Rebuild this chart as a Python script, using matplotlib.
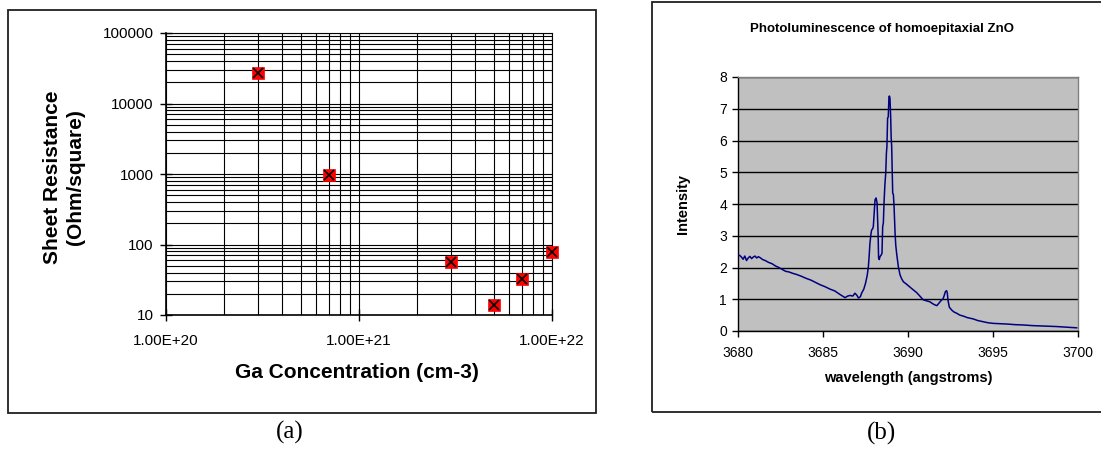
import matplotlib
matplotlib.use("Agg")
import matplotlib.pyplot as plt
from matplotlib.patches import Rectangle
from matplotlib.ticker import LogLocator, FixedLocator, NullFormatter

plt.rcParams['font.family'] = ['Liberation Sans', 'DejaVu Sans']

# ---------------- data: panel (a) ----------------
ga_conc = [3e20, 7e20, 3e21, 5e21, 7e21, 1e22]
sheet_res = [27000, 960, 56, 13.7, 32, 78]
a_xticks = [1e20, 1e21, 1e22]
a_xticklabels = ["1.00E+20", "1.00E+21", "1.00E+22"]
a_yticks = [10, 100, 1000, 10000, 100000]
a_yticklabels = ["10", "100", "1000", "10000", "100000"]

# ---------------- data: panel (b) ----------------
wavelength = [3680.0, 3680.1, 3680.2, 3680.3, 3680.4, 3680.5, 3680.6, 3680.7, 3680.8, 3680.9,
              3681.0, 3681.1, 3681.2, 3681.3, 3681.45, 3681.6, 3681.8, 3682.0, 3682.2, 3682.4,
              3682.6, 3682.8, 3683.0, 3683.2, 3683.45, 3683.7, 3684.0, 3684.3, 3684.6, 3684.82,
              3685.1, 3685.41, 3685.7, 3686.0, 3686.15, 3686.3, 3686.45, 3686.59, 3686.75, 3686.88,
              3687.0, 3687.08, 3687.2, 3687.27, 3687.4, 3687.5, 3687.6, 3687.67, 3687.72, 3687.76,
              3687.82, 3687.86, 3687.92, 3687.96, 3688.02, 3688.06, 3688.12, 3688.18, 3688.21, 3688.24,
              3688.27, 3688.31, 3688.35, 3688.43, 3688.47, 3688.51, 3688.55, 3688.59, 3688.64, 3688.69,
              3688.73, 3688.76, 3688.8, 3688.84, 3688.88, 3688.91, 3688.94, 3688.98, 3689.01, 3689.04,
              3689.07, 3689.1, 3689.14, 3689.18, 3689.24, 3689.28, 3689.33, 3689.43, 3689.53, 3689.63,
              3689.73, 3689.9, 3690.12, 3690.3, 3690.51, 3690.7, 3690.9, 3691.1, 3691.29, 3691.45,
              3691.59, 3691.7, 3691.78, 3691.9, 3691.98, 3692.05, 3692.12, 3692.2, 3692.27, 3692.31,
              3692.35, 3692.43, 3692.57, 3692.7, 3692.86, 3693.05, 3693.25, 3693.5, 3693.84, 3694.1,
              3694.43, 3694.7, 3695.02, 3695.4, 3695.8, 3696.3, 3696.78, 3697.3, 3697.76, 3698.2,
              3698.75, 3699.3, 3699.92]
intensity = [2.40, 2.38, 2.33, 2.26, 2.36, 2.22, 2.30, 2.35, 2.28, 2.33,
             2.36, 2.30, 2.34, 2.31, 2.25, 2.22, 2.16, 2.12, 2.05, 2.00,
             1.94, 1.88, 1.86, 1.82, 1.78, 1.73, 1.66, 1.60, 1.52, 1.46,
             1.40, 1.32, 1.26, 1.15, 1.10, 1.05, 1.10, 1.12, 1.10, 1.19,
             1.12, 1.04, 1.08, 1.19, 1.32, 1.50, 1.75, 2.03, 2.40, 2.76,
             3.05, 3.18, 3.22, 3.29, 3.80, 4.13, 4.19, 4.04, 3.60, 3.08,
             2.29, 2.25, 2.34, 2.40, 2.45, 3.29, 3.40, 4.04, 4.60, 4.97,
             5.60, 5.81, 6.70, 6.75, 7.38, 7.40, 7.33, 6.75, 6.10, 5.81,
             5.00, 4.34, 4.30, 3.92, 3.08, 2.70, 2.45, 2.03, 1.77, 1.64,
             1.55, 1.48, 1.38, 1.30, 1.21, 1.10, 0.98, 0.95, 0.92, 0.86,
             0.82, 0.80, 0.85, 0.92, 0.98, 1.00, 1.10, 1.24, 1.27, 1.20,
             0.98, 0.75, 0.66, 0.60, 0.56, 0.50, 0.47, 0.42, 0.38, 0.33,
             0.29, 0.26, 0.24, 0.23, 0.22, 0.20, 0.19, 0.17, 0.16, 0.15,
             0.14, 0.12, 0.10]
b_xticks = [3680, 3685, 3690, 3695, 3700]
b_yticks = [0, 1, 2, 3, 4, 5, 6, 7, 8]

W, H = 1101, 450
fig = plt.figure(figsize=(W / 100, H / 100), dpi=100)


def fx(px):
    return px / W


def fy(py):
    return 1 - py / H


# panel frames
fig.patches.append(Rectangle((fx(8), fy(413)), fx(596) - fx(8), fy(10) - fy(413),
                             transform=fig.transFigure, fill=False, ec='#202020', lw=1.3))
fig.patches.append(Rectangle((fx(652), fy(412)), fx(1120) - fx(652), fy(2) - fy(412),
                             transform=fig.transFigure, fill=False, ec='#202020', lw=1.3))

# ---------------- panel (a) ----------------
ax1 = fig.add_axes([fx(166), fy(315), fx(552) - fx(166), fy(33) - fy(315)])
ax1.set_xscale('log')
ax1.set_yscale('log')
ax1.set_xlim(1e20, 1e22)
ax1.set_ylim(10, 100000)
ax1.plot(ga_conc, sheet_res, ls='none', marker='s', ms=9, mfc='#ff0000', mec='#ff0000', mew=0.5,
         zorder=5, clip_on=False)
ax1.plot(ga_conc, sheet_res, ls='none', marker='x', ms=7, mec='#000000', mew=1.2, zorder=6,
         clip_on=False)
ax1.xaxis.set_major_locator(FixedLocator(a_xticks))
ax1.set_xticklabels(a_xticklabels)
ax1.yaxis.set_major_locator(FixedLocator(a_yticks))
ax1.set_yticklabels(a_yticklabels)
ax1.xaxis.set_minor_locator(LogLocator(base=10, subs=range(2, 10)))
ax1.yaxis.set_minor_locator(LogLocator(base=10, subs=range(2, 10)))
ax1.xaxis.set_minor_formatter(NullFormatter())
ax1.yaxis.set_minor_formatter(NullFormatter())
ax1.grid(True, which='both', color='#000000', lw=0.8)
ax1.set_axisbelow(True)
ax1.tick_params(which='major', direction='inout', length=8, width=1, labelsize=11,
                colors='#000000')
ax1.tick_params(axis='x', which='major', pad=10)
ax1.tick_params(axis='y', which='major', pad=5)
ax1.tick_params(which='minor', length=0)
for s in ax1.spines.values():
    s.set_color('#000000')
    s.set_linewidth(0.8)
ax1.spines['left'].set_linewidth(1.2)
ax1.spines['bottom'].set_linewidth(1.2)
ax1.set_facecolor('white')

fig.text(fx(357), fy(373), "Ga Concentration (cm-3)", ha='center', va='center',
         fontsize=15, fontweight='bold')
fig.text(fx(64), fy(177), "Sheet Resistance\n(Ohm/square)", ha='center', va='center',
         rotation=90, fontsize=15, fontweight='bold', multialignment='center', linespacing=1.2)
fig.text(fx(290), fy(432), "(a)", ha='center', va='center', fontsize=18,
         family=['Liberation Serif', 'DejaVu Serif'])

# ---------------- panel (b) ----------------
ax2 = fig.add_axes([fx(738), fy(331), fx(1078) - fx(738), fy(77) - fy(331)])
ax2.set_facecolor('#c0c0c0')
ax2.plot(wavelength, intensity, color='#000080', lw=1.1, zorder=3)
ax2.set_xlim(3680, 3700)
ax2.set_ylim(0, 8)
ax2.xaxis.set_major_locator(FixedLocator(b_xticks))
ax2.yaxis.set_major_locator(FixedLocator(b_yticks))
ax2.yaxis.grid(True, color='#000000', lw=1.0)
ax2.set_axisbelow(True)
ax2.tick_params(direction='out', length=4, width=1, labelsize=10, pad=4, colors='#000000')
ax2.tick_params(axis='x', pad=7)
ax2.spines['left'].set_color('#000000')
ax2.spines['bottom'].set_color('#000000')
ax2.spines['top'].set_color('#808080')
ax2.spines['right'].set_color('#808080')
for s in ax2.spines.values():
    s.set_linewidth(1.0)

fig.text(fx(882), fy(29), "Photoluminescence of homoepitaxial ZnO", ha='center', va='center',
         fontsize=9.5, fontweight='bold')
fig.text(fx(908), fy(378), "wavelength (angstroms)", ha='center', va='center',
         fontsize=10.5, fontweight='bold')
fig.text(fx(683), fy(204), "Intensity", ha='center', va='center', rotation=90,
         fontsize=10.5, fontweight='bold')
fig.text(fx(882), fy(433), "(b)", ha='center', va='center', fontsize=18,
         family=['Liberation Serif', 'DejaVu Serif'])

fig.savefig("out.png", dpi=100)
